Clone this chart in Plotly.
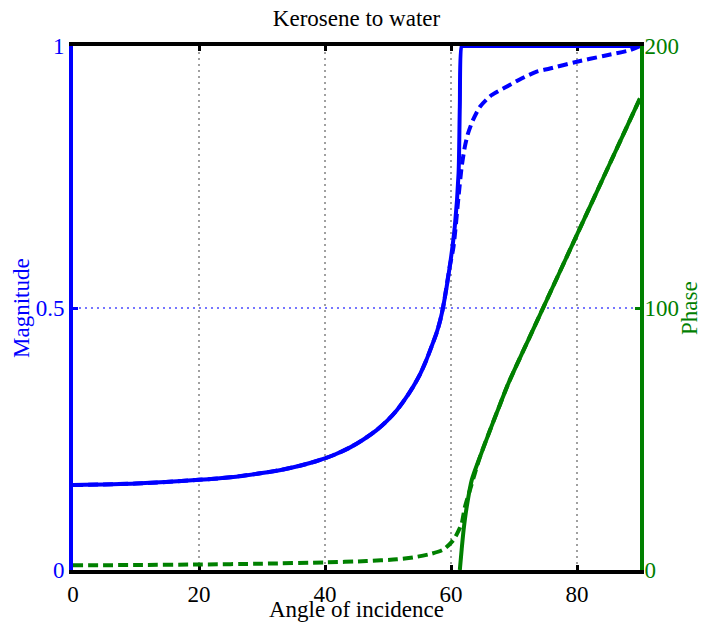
import plotly.graph_objects as go

# ---- data ----
mag_solid_x = [0, 10, 20, 25, 30, 33, 36.0, 38.7, 41.3, 44.0, 46.1, 48.2, 49.8, 51.4, 52.7, 54.0, 55.1, 56.1, 56.9, 57.7, 58.3, 58.8, 59.8, 60.6, 61.2, 61.4, 61.7, 62, 90]
mag_solid_y = [0.162, 0.165, 0.172, 0.177, 0.185, 0.191, 0.199, 0.208, 0.219, 0.234, 0.249, 0.267, 0.284, 0.305, 0.326, 0.350, 0.374, 0.401, 0.426, 0.452, 0.477, 0.505, 0.579, 0.655, 0.757, 0.884, 1.0, 1.0, 1.0]

mag_dash_x = [0, 10, 20, 25, 30, 33, 36.0, 38.7, 41.3, 44.0, 46.1, 48.2, 49.8, 51.4, 52.7, 54.0, 55.1, 56.1, 56.9, 57.7, 58.3, 58.8, 59.8, 60.4, 61.2, 61.7, 62.2, 62.7, 63.5, 64.6, 66.4, 68.8, 71.2, 73.6, 75.7, 80, 84.2, 88.4, 90]
mag_dash_y = [0.162, 0.165, 0.172, 0.177, 0.185, 0.191, 0.199, 0.208, 0.219, 0.234, 0.249, 0.267, 0.284, 0.305, 0.326, 0.350, 0.374, 0.401, 0.426, 0.452, 0.477, 0.505, 0.579, 0.617, 0.713, 0.770, 0.808, 0.833, 0.859, 0.884, 0.906, 0.922, 0.938, 0.951, 0.957, 0.970, 0.981, 0.992, 1.0]

ph_solid_x = [61.4, 61.7, 62.0, 62.5, 63.3, 64.6, 66.2, 67.8, 69.1, 72.5, 75, 80, 85, 90]
ph_solid_y = [0, 8, 15.3, 24.2, 34.4, 43.2, 53.4, 63.3, 71.2, 89, 102, 128, 154, 180]

ph_dash_x = [0, 10, 20, 30, 40, 46.6, 51.4, 54, 56.7, 58.8, 60.4, 61.2, 61.7, 62.2, 63.0, 63.8, 64.6, 66.2, 67.8, 69.1, 72.5, 75, 80, 85, 90]
ph_dash_y = [1.8, 1.9, 2.1, 2.4, 2.9, 3.4, 4.1, 4.8, 6.1, 7.8, 11.5, 15, 17.8, 24, 30.5, 37, 43.2, 53.4, 63.3, 71.2, 89, 102, 128, 154, 180]

x_ticks = [0, 20, 40, 60, 80]
mag_ticks = [0, 0.5, 1]
mag_tick_text = ["0", "0.5", "1"]
ph_ticks = [0, 100, 200]

BLUE = "#0000ff"
GREEN = "#008000"
FONT = "Liberation Serif, Times New Roman, serif"
FS = 23

spl = dict(shape="spline", smoothing=0.7)
fig = go.Figure()
fig.add_trace(go.Scatter(x=mag_dash_x, y=mag_dash_y, mode="lines",
                         line=dict(color=BLUE, width=4, dash="10px,5px", **spl), yaxis="y"))
fig.add_trace(go.Scatter(x=mag_solid_x, y=mag_solid_y, mode="lines",
                         line=dict(color=BLUE, width=4, **spl), yaxis="y"))
fig.add_trace(go.Scatter(x=ph_dash_x, y=ph_dash_y, mode="lines",
                         line=dict(color=GREEN, width=4, dash="10px,5px", **spl), yaxis="y2"))
fig.add_trace(go.Scatter(x=ph_solid_x, y=ph_solid_y, mode="lines",
                         line=dict(color=GREEN, width=4, **spl), yaxis="y2"))

fig.update_layout(
    width=702, height=623,
    margin=dict(l=73, r=62, t=46, b=53),
    paper_bgcolor="white", plot_bgcolor="white",
    showlegend=False,
    font=dict(family=FONT, size=FS, color="black"),
    title=dict(text="Kerosene to water", x=356.5 / 702, xanchor="center",
               y=1 - 18 / 623, yanchor="middle", font=dict(family=FONT, size=FS, color="black")),
    xaxis=dict(range=[0, 90], tickvals=x_ticks, showline=True, linecolor="black", linewidth=4,
               mirror="ticks", ticks="inside", ticklen=5, tickwidth=3, tickcolor="black",
               showgrid=True, gridcolor="#a0a0a0", gridwidth=2, griddash="2px,4px",
               zeroline=False, layer="below traces", automargin=False,
               tickfont=dict(family=FONT, size=FS, color="black")),
    yaxis=dict(range=[0, 1], tickvals=mag_ticks, ticktext=mag_tick_text,
               showline=True, linecolor=BLUE, linewidth=4,
               ticks="inside", ticklen=5, tickwidth=3, tickcolor=BLUE,
               showgrid=True, gridcolor="rgba(60,60,255,0.7)", gridwidth=2, griddash="2px,4px",
               zeroline=False, layer="below traces", automargin=False,
               tickfont=dict(family=FONT, size=FS, color=BLUE)),
    yaxis2=dict(range=[0, 200], tickvals=ph_ticks, overlaying="y", side="right",
                showline=True, linecolor=GREEN, linewidth=4,
                ticks="inside", ticklen=5, tickwidth=3, tickcolor=GREEN,
                showgrid=False, zeroline=False, automargin=False,
                ticklabelstandoff=-4,
                tickfont=dict(family=FONT, size=FS, color=GREEN)),
    annotations=[
        dict(text="Angle of incidence", xref="paper", yref="paper", x=0.5, y=0,
             xanchor="center", yanchor="middle", yshift=-39, showarrow=False,
             font=dict(family=FONT, size=FS, color="black")),
        dict(text="Magnitude", xref="paper", yref="paper", x=0, y=0.5, textangle=-90,
             xanchor="center", yanchor="middle", xshift=-52, showarrow=False,
             font=dict(family=FONT, size=FS, color=BLUE)),
        dict(text="Phase", xref="paper", yref="paper", x=1, y=0.5, textangle=-90,
             xanchor="center", yanchor="middle", xshift=49, showarrow=False,
             font=dict(family=FONT, size=FS, color=GREEN)),
    ],
)

fig.write_html("out.html")
